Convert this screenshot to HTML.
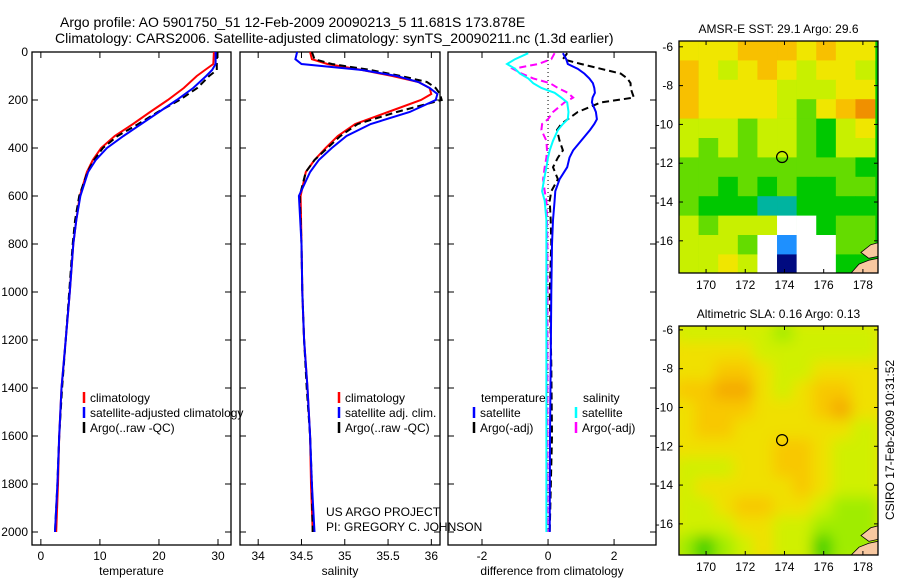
<!DOCTYPE html>
<html><head><meta charset="utf-8">
<style>
html,body{margin:0;padding:0;background:#fff;}
svg{display:block;font-family:"Liberation Sans",sans-serif;}
text{fill:#000;}
</style></head>
<body>
<svg id="fig" width="900" height="580" viewBox="0 0 900 580" xmlns="http://www.w3.org/2000/svg">
<defs>
<filter id="blur" x="0" y="0" width="1" height="1"><feGaussianBlur stdDeviation="7"/></filter>
<clipPath id="clipSla"><rect x="679" y="326" width="199" height="229"/></clipPath>
<clipPath id="clipSst"><rect x="679" y="41" width="199" height="232"/></clipPath>
</defs>
<text x="60" y="27" font-size="14">Argo profile: AO 5901750_51 12-Feb-2009 20090213_5 11.681S 173.878E</text>
<text x="55" y="43" font-size="14">Climatology: CARS2006. Satellite-adjusted climatology: synTS_20090211.nc (1.3d earlier)</text>
<g id="root"></g>
<text x="326" y="516" font-size="12">US ARGO PROJECT</text>
<text x="326" y="531" font-size="12">PI: GREGORY C. JOHNSON</text>
<text transform="translate(894,440) rotate(-90)" text-anchor="middle" font-size="12">CSIRO 17-Feb-2009 10:31:52</text>
</svg>
<script>
// ---------- data ----------
const depthTicks = [0,200,400,600,800,1000,1200,1400,1600,1800,2000];
const tempTicks = [0,10,20,30];
const salTicks = [34,34.5,35,35.5,36];
const diffTicks = [-2,0,2];

const tDepths = [0,50,75,100,150,200,250,300,350,400,450,500,600,700,800,1000,1200,1400,1600,1800,2000];
const tempClim = [29.3,29.2,27.8,26.4,24.2,21.5,18.5,15.6,12.5,10.2,8.8,7.8,6.6,6.0,5.5,4.9,4.2,3.5,3.1,2.9,2.6];
const tempSat  = [29.6,29.6,29.0,28.0,25.8,23.0,20.0,17.0,14.0,11.2,9.3,8.0,6.7,6.0,5.5,4.9,4.2,3.5,3.1,2.8,2.4];
const tempArgo = [29.8,29.8,29.8,28.5,26.5,23.5,19.8,16.5,13.0,10.5,9.0,7.9,6.5,5.8,5.4,4.8,4.2,3.6,3.1,2.8,2.4];

const sDepths = [0,30,50,75,100,125,150,175,200,250,300,350,400,450,500,600,800,1000,1200,1400,1600,1800,2000];
const salClim = [34.6,34.62,34.8,35.2,35.55,35.85,35.98,36.0,35.88,35.5,35.12,34.92,34.78,34.65,34.55,34.49,34.5,34.51,34.53,34.57,34.6,34.61,34.63];
const salSat  = [34.45,34.43,34.5,35.2,35.6,35.85,35.98,36.07,36.05,35.75,35.3,35.02,34.85,34.7,34.6,34.47,34.5,34.51,34.53,34.57,34.6,34.62,34.65];
const salArgo = [34.62,34.65,34.85,35.3,35.65,35.95,36.05,36.1,36.12,35.6,35.15,34.95,34.8,34.65,34.55,34.48,34.5,34.51,34.53,34.56,34.6,34.62,34.63];

const dDepths = [5,30,50,70,90,110,130,150,170,190,210,250,280,300,325,370,410,440,480,530,580,620,700,800,1000,1300,1600,2000];
const tDiffSat  = [0.45,0.55,0.6,0.9,1.1,1.25,1.36,1.4,1.42,1.35,1.33,1.45,1.48,1.4,1.27,1.0,0.76,0.65,0.58,0.35,0.22,0.2,0.15,0.12,0.1,0.08,0.06,0.05];
const tDiffArgo = [0.58,0.45,1.0,1.6,2.2,2.4,2.5,2.5,2.55,2.6,1.6,0.9,0.6,0.4,0.27,0.35,0.45,0.3,0.15,0.3,0.1,0.05,0.08,0.1,0.05,0.1,0.12,0.05];
const sDiffSat  = [-0.6,-1.0,-1.24,-1.0,-0.85,-0.6,-0.45,-0.2,0.2,0.4,0.58,0.62,0.6,0.45,0.3,0.15,0.05,0.0,-0.05,-0.12,-0.18,-0.1,-0.05,-0.05,-0.05,-0.05,-0.05,-0.05];
const sDiffArgo = [0.2,0.1,-0.3,-1.06,-0.8,-0.45,0.06,0.3,0.6,0.76,0.5,0.15,0.0,-0.18,-0.2,-0.05,-0.03,-0.05,-0.1,-0.15,-0.1,-0.05,-0.03,-0.02,-0.02,-0.02,-0.02,-0.02];

const lonTicks = [170,172,174,176,178];
const latTicks = [-6,-8,-10,-12,-14,-16];
// SST colour-level grid (rows from -5.7 lat southward, 1deg cells, cols from 168.6E), -1 = missing
const sstGrid = [
 [6,6,6,7,7,7,6,7,6,6],
 [7,6,5,6,7,6,5,6,6,5],
 [7,6,6,6,6,5,5,5,6,6],
 [7,6,6,6,6,5,4,6,7,8],
 [5,5,5,4,5,5,4,3,5,6],
 [5,4,5,4,5,5,4,3,5,5],
 [4,4,4,4,4,4,4,4,4,3],
 [4,4,3,4,3,4,3,3,4,4],
 [4,3,3,3,2,2,3,3,3,3],
 [5,4,5,5,5,-1,-1,3,4,4],
 [5,5,5,4,-1,1,-1,-1,4,4],
 [5,5,6,5,-1,0,-1,-1,3,3]
];
const slaGrid = [
 [2,2,2,2,2,1,2,2,2,2],
 [3,3,3,3,2,2,2,2,2,2],
 [3,3,4,4,3,2,2,3,3,3],
 [4,4,5,5,3,2,3,4,4,3],
 [3,4,4,4,3,3,3,4,5,3],
 [3,4,4,3,3,3,3,3,3,2],
 [3,3,3,3,3,4,4,3,2,2],
 [2,2,2,3,3,4,4,3,2,2],
 [2,3,3,3,3,3,4,3,2,2],
 [2,2,3,4,4,3,3,2,1,1],
 [2,2,2,3,3,2,2,1,1,1],
 [1,0,1,2,3,2,2,0,1,1]
];
const floatLon = 173.878, floatLat = -11.681;

// ---------- helpers ----------
const NS = "http://www.w3.org/2000/svg";
const root = document.getElementById('root');
function mk(tag, attrs, parent){
  const e = document.createElementNS(NS, tag);
  for (const k in attrs) e.setAttribute(k, attrs[k]);
  (parent||root).appendChild(e);
  return e;
}
const Y0 = 52, Y1 = 545;
const yD = d => Y0 + d * 0.24;

function panel(name, x0, x1, vmin, vmax, ticks, labelFmt, xlabel, showYLabels){
  const sx = v => x0 + (v - vmin) / (vmax - vmin) * (x1 - x0);
  const g = mk('g', {});
  
  
  const fr = mk('rect', {x:x0, y:Y0, width:x1-x0, height:Y1-Y0, fill:'none', stroke:'#000', 'stroke-width':1.3}, g);
  
  
  ticks.forEach(t => {
    const x = sx(t);
    mk('line', {x1:x, x2:x, y1:Y1, y2:Y1-6, stroke:'#000'}, g);
    mk('line', {x1:x, x2:x, y1:Y0, y2:Y0+6, stroke:'#000'}, g);
    const tx = mk('text', {x:x, y:Y1+15, 'text-anchor':'middle', 'font-size':12}, g);
    tx.textContent = labelFmt(t);
    
    
  });
  depthTicks.forEach(d => {
    const y = yD(d);
    mk('line', {x1:x0, x2:x0+6, y1:y, y2:y, stroke:'#000'}, g);
    mk('line', {x1:x1, x2:x1-6, y1:y, y2:y, stroke:'#000'}, g);
    if (showYLabels){
      const tx = mk('text', {x:x0-4, y:y+4, 'text-anchor':'end', 'font-size':12}, g);
      tx.textContent = d;
      
      
    }
  });
  const xl = mk('text', {x:(x0+x1)/2, y:575, 'text-anchor':'middle', 'font-size':12}, g);
  xl.textContent = xlabel;
  
  
  return {sx, g};
}
function series(p, depths, vals, color, dashed, sname){
  const pts = depths.map((d,i) => p.sx(vals[i]).toFixed(1) + ',' + yD(d).toFixed(1)).join(' ');
  const l = mk('polyline', {points:pts, fill:'none', stroke:color, 'stroke-width':2, 'stroke-dasharray': dashed ? '7,4' : 'none'}, p.g);
  
  
}
function legend(g, x, y, color, label, lname){
  const m = mk('line', {x1:x, x2:x, y1:y-10, y2:y+1, stroke:color, 'stroke-width':2.5}, g);
  
  
  const t = mk('text', {x:x+6, y:y, 'font-size':12}, g);
  t.textContent = label;
  
  
}

// ---------- temperature ----------
const pT = panel('temperature', 32, 231, -1.5, 32.2, tempTicks, v=>v, 'temperature', true);
series(pT, tDepths, tempClim, '#f00', false, 'temp-climatology-line');
series(pT, tDepths, tempArgo, '#000', true, 'temp-argo-line');
series(pT, tDepths, tempSat, '#00f', false, 'temp-satellite-line');
legend(pT.g, 84, 402, '#f00', 'climatology', 'legend-temp-climatology');
legend(pT.g, 84, 417, '#00f', 'satellite-adjusted climatology', 'legend-temp-satellite');
legend(pT.g, 84, 432, '#000', 'Argo(..raw -QC)', 'legend-temp-argo');

// ---------- salinity ----------
const pS = panel('salinity', 240, 440, 33.79, 36.1, salTicks, v=>v, 'salinity', false);
series(pS, sDepths, salClim, '#f00', false, 'sal-climatology-line');
series(pS, sDepths, salArgo, '#000', true, 'sal-argo-line');
series(pS, sDepths, salSat, '#00f', false, 'sal-satellite-line');
legend(pS.g, 339, 402, '#f00', 'climatology', 'legend-sal-climatology');
legend(pS.g, 339, 417, '#00f', 'satellite adj. clim.', 'legend-sal-satellite');
legend(pS.g, 339, 432, '#000', 'Argo(..raw -QC)', 'legend-sal-argo');

// ---------- difference ----------
const pD = panel('difference', 448, 656, -3.03, 3.27, diffTicks, v=>v, 'difference from climatology', false);
const zl = mk('line', {x1:pD.sx(0), x2:pD.sx(0), y1:Y0, y2:532, stroke:'#000', 'stroke-dasharray':'1,3'}, pD.g);


series(pD, dDepths, sDiffArgo, '#f0f', true, 'sal-diff-argo-line');
series(pD, dDepths, tDiffArgo, '#000', true, 'temp-diff-argo-line');
series(pD, dDepths, sDiffSat, '#0ff', false, 'sal-diff-satellite-line');
series(pD, dDepths, tDiffSat, '#00f', false, 'temp-diff-satellite-line');
const lt1 = mk('text', {x:481, y:402, 'font-size':12}, pD.g); lt1.textContent = 'temperature';


const lt2 = mk('text', {x:583, y:402, 'font-size':12}, pD.g); lt2.textContent = 'salinity';


legend(pD.g, 474, 417, '#00f', 'satellite', 'legend-temp-diff-satellite');
legend(pD.g, 474, 432, '#000', 'Argo(-adj)', 'legend-temp-diff-argo');
legend(pD.g, 576, 417, '#0ff', 'satellite', 'legend-sal-diff-satellite');
legend(pD.g, 576, 432, '#f0f', 'Argo(-adj)', 'legend-sal-diff-argo');

// ---------- maps ----------
const sstColors = ['#000a80','#1e90ff','#00b4a0','#00c800','#64dc00','#c8f000','#f0e600','#f8c000','#f09000'];
const slaColors = ['#40d000','#a0ec00','#d0f000','#f0e000','#f8c800','#f4aa00'];
function map(name, top, bottom, grid, colors, blur, title, clipId, lat0){
  const x0 = 679, x1 = 878, lonMin = 168.62, lonMax = 178.77;
  const latTop = lat0;
  const pxPerDeg = 19.4;
  const sx = lon => x0 + (lon - lonMin) / (lonMax - lonMin) * (x1 - x0);
  const sy = lat => top + (latTop - lat) * pxPerDeg;
  const g = mk('g', {});
  
  
  const cg = mk('g', {'clip-path':'url(#' + clipId + ')'}, g);
  mk('rect', {x:x0, y:top, width:x1-x0, height:bottom-top, fill:colors[Math.min(3,colors.length-1)]}, cg);
  const cells = mk('g', blur ? {filter:'url(#blur)'} : {}, cg);
  grid.forEach((row, r) => row.forEach((v, c) => {
    const xa = sx(lonMin + c), xb = sx(lonMin + c + 1);
    const ya = sy(latTop - r), yb = sy(latTop - r - 1);
    const cell = mk('rect', {x:xa-(blur?4:0), y:ya-(blur?4:0), width:xb-xa+(blur?8:0.3), height:yb-ya+(blur?8:0.3), fill: v < 0 ? '#fff' : colors[v]}, cells);
    
    
  }));
  // land patch (bottom-right)
  const land = mk('path', {d:`M${sx(177.4)},${bottom} L${sx(177.8)},${sy(-17.2)} L${sx(178.3)},${sy(-17.0)} L${x1},${sy(-16.9)} L${x1},${bottom} Z M${sx(177.9)},${sy(-16.6)} L${sx(178.4)},${sy(-16.2)} L${x1},${sy(-16.1)} L${x1},${sy(-16.8)} L${sx(178.3)},${sy(-16.9)} Z`, fill:'#f8c8a0', stroke:'#000', 'stroke-width':0.8}, cg);
  
  
  const fr = mk('rect', {x:x0, y:top, width:x1-x0, height:bottom-top, fill:'none', stroke:'#000', 'stroke-width':1.3}, g);
  
  
  lonTicks.forEach(l => {
    const x = sx(l);
    mk('line', {x1:x, x2:x, y1:bottom, y2:bottom-4, stroke:'#000'}, g);
    mk('line', {x1:x, x2:x, y1:top, y2:top+4, stroke:'#000'}, g);
    const t = mk('text', {x:x, y:bottom+16, 'text-anchor':'middle', 'font-size':12}, g);
    t.textContent = l;
    
    
  });
  latTicks.forEach(l => {
    const y = sy(l);
    mk('line', {x1:x0, x2:x0+4, y1:y, y2:y, stroke:'#000'}, g);
    mk('line', {x1:x1, x2:x1-4, y1:y, y2:y, stroke:'#000'}, g);
    const t = mk('text', {x:x0-6, y:y+4, 'text-anchor':'end', 'font-size':12}, g);
    t.textContent = l;
    
    
  });
  const c = mk('circle', {cx:sx(floatLon), cy:sy(floatLat), r:5.5, fill:'none', stroke:'#000', 'stroke-width':1.2}, g);
  
  
  const tt = mk('text', {x:(x0+x1)/2, y:top-8, 'text-anchor':'middle', 'font-size':12}, g);
  tt.textContent = title;
  
  
}
map('sst-map', 41, 273, sstGrid, sstColors, false, 'AMSR-E SST: 29.1 Argo: 29.6', 'clipSst', -5.7);
map('sla-map', 326, 555, slaGrid, slaColors, true, 'Altimetric SLA: 0.16 Argo: 0.13', 'clipSla', -5.8);
</script>
</body></html>
